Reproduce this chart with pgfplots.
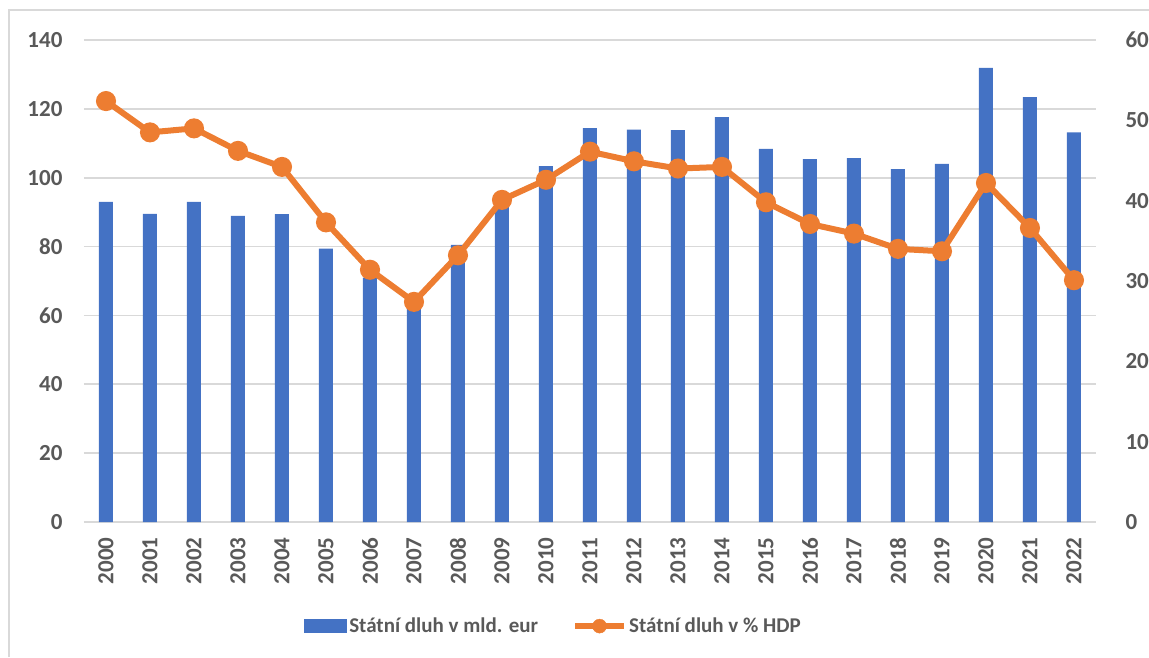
\documentclass[border=0pt]{standalone}
\usepackage{fontspec}
\setmainfont{Carlito}
\usepackage{pgfplots}
\pgfplotsset{compat=1.18}
\definecolor{cblue}{HTML}{4472C4}
\definecolor{corange}{HTML}{ED7D31}
\definecolor{cgrid}{HTML}{D9D9D9}
\definecolor{ctext}{HTML}{595959}
\begin{document}
\begin{tikzpicture}
\useasboundingbox (0,0) rectangle (1149pt,657pt);
\draw[cgrid,line width=1.5pt] (9pt,0pt) -- (9pt,647pt) -- (1149pt,647pt);
\begin{axis}[
  at={(84pt,135pt)}, anchor=south west,
  scale only axis, width=1012pt, height=482pt,
  xmin=-0.5, xmax=22.5, ymin=0, ymax=140,
  ytick={0,20,...,140},
  xtick={0,...,22},
  xticklabels={2000,2001,2002,2003,2004,2005,2006,2007,2008,2009,2010,2011,2012,2013,2014,2015,2016,2017,2018,2019,2020,2021,2022},
  x tick label style={rotate=90, anchor=east, xshift=-12pt},
  yticklabel style={xshift=-18pt},
  major tick length=0pt,
  axis line style={draw=none},
  ymajorgrids, grid style={cgrid, line width=1.8pt},
  /pgf/number format/assume math mode=true,
  tick label style={font=\bfseries\fontsize{23}{27}\selectfont, text=ctext},
  legend columns=2,
  legend style={at={(0.464,-0.216)}, anchor=center, draw=none, fill=none,
    font=\bfseries\fontsize{21}{25}\selectfont, text=ctext,
    /tikz/every even column/.append style={column sep=32pt}},
]
\addplot[ybar, bar width=14pt, fill=cblue, draw=none,
  legend image code/.code={\fill[cblue] (-2pt,-7pt) rectangle (41pt,7pt);}]
coordinates {(0,93) (1,89.5) (2,93) (3,88.9) (4,89.4) (5,79.4) (6,71) (7,62.5) (8,80.5) (9,93) (10,103.4) (11,114.4) (12,114) (13,113.8) (14,117.6) (15,108.4) (16,105.4) (17,105.7) (18,102.5) (19,104) (20,131.9) (21,123.4) (22,113.2)};
\addlegendentry{Státní dluh v mld. eur}
\addlegendimage{legend image code/.code={\draw[corange,line width=6pt] (-2pt,0pt) -- (47pt,0pt); \fill[corange] (22.5pt,0pt) circle (7pt);}}
\addlegendentry{Státní dluh v \% HDP}
\end{axis}
\begin{axis}[
  at={(84pt,135pt)}, anchor=south west,
  scale only axis, width=1012pt, height=482pt,
  xmin=-0.5, xmax=22.5, ymin=0, ymax=60,
  ytick={0,10,...,60},
  axis y line*=right, axis x line=none,
  major tick length=0pt,
  axis line style={draw=none},
  yticklabel style={xshift=26pt},
  /pgf/number format/assume math mode=true,
  tick label style={font=\bfseries\fontsize{23}{27}\selectfont, text=ctext},
]
\addplot[corange, line width=6pt, mark=*, mark size=7pt, mark options={fill=corange, draw=none}]
coordinates {(0,52.4) (1,48.5) (2,49.0) (3,46.2) (4,44.2) (5,37.3) (6,31.4) (7,27.4) (8,33.2) (9,40.1) (10,42.6) (11,46.1) (12,44.9) (13,44.0) (14,44.2) (15,39.8) (16,37.1) (17,35.9) (18,34.0) (19,33.7) (20,42.2) (21,36.6) (22,30.1)};
\end{axis}
\end{tikzpicture}
\end{document}
